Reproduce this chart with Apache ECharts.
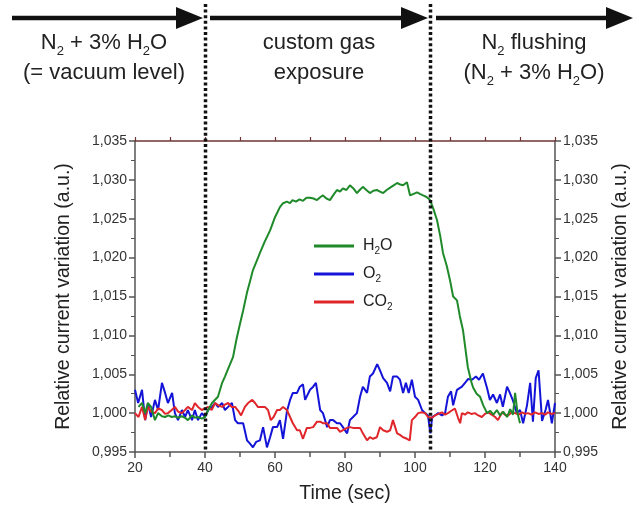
<!DOCTYPE html>
<html>
<head>
<meta charset="utf-8">
<script src="https://cdn.jsdelivr.net/npm/echarts@6/dist/echarts.min.js"></script>
<style>
html, body { margin: 0; padding: 0; background: #fff; }
#chart { width: 639px; height: 508px; }
</style>
</head>
<body>
<div id="chart"></div>
<script>
// time (sec), relative current variation (a.u.)
const h2o = [
	[21,1.0008],[22,1.0013],[22.9,1.0000],[23.7,1.0013],[24.6,1.0008],[25.7,0.9991],[26.6,1.0000],[27.7,0.9996],
	[28.6,0.9995],[29.5,0.9997],[30.5,0.9995],[31.4,0.9996],[32.3,0.9994],[33.4,0.9996],[34.3,0.9994],[35.1,0.9991],
	[36.3,0.9997],[37.1,0.9994],[38,0.9995],[39.1,0.9993],[40,0.9995],[40.9,1.0004],[42,1.0013],[43.7,1.0021],
	[44.9,1.0039],[45.7,1.0047],[46.6,1.0057],[48,1.0072],[49,1.0095],[50,1.0115],[50.9,1.0132],[52,1.0155],
	[53,1.0172],[53.7,1.0184],[54.7,1.0195],[55.7,1.0206],[57,1.0220],[58.6,1.0235],[60,1.0252],[61.4,1.0265],
	[62.3,1.0270],[63.4,1.0272],[64.3,1.0270],[65,1.0274],[66,1.0272],[67,1.0275],[68,1.0273],[69,1.0277],
	[70,1.0277],[71,1.0276],[72,1.0274],[73,1.0278],[73.7,1.0280],[74.7,1.0276],[75.7,1.0274],[76.6,1.0280],
	[77.7,1.0287],[78.6,1.0285],[79.4,1.0289],[80.4,1.0287],[81.4,1.0293],[82.4,1.0289],[83.4,1.0283],[84.2,1.0287],
	[85.1,1.0291],[86.1,1.0287],[87.1,1.0283],[88.1,1.0286],[89.1,1.0287],[90,1.0285],[90.9,1.0283],[91.9,1.0287],
	[92.9,1.0290],[93.9,1.0293],[94.9,1.0296],[95.8,1.0294],[96.6,1.0293],[97.7,1.0297],[98.6,1.0280],[99.6,1.0282],
	[100.6,1.0284],[101.4,1.0282],[102.3,1.0280],[103.3,1.0278],[104.3,1.0274],[105.3,1.0262],[106.3,1.0248],[107.2,1.0228],
	[108,1.0206],[109.1,1.0189],[110,1.0171],[110.9,1.0150],[112,1.0145],[112.8,1.0125],[113.7,1.0107],[114.4,1.0083],
	[115.1,1.0059],[116.1,1.0040],[116.6,1.0033],[117.6,1.0025],[118.6,1.0021],[119.5,1.0010],[120.6,1.0000],[121.5,1.0003],
	[122.4,0.9998],[123.4,1.0004],[124.3,0.9997],[125.2,1.0002],[126.3,0.9995],[127.2,1.0005],[128,0.9998],[128.6,1.0026],
	[129.3,1.0000],[130,0.9987]
];
const o2 = [
	[20,1.0030],[20.9,1.0013],[22,1.0030],[22.9,0.9991],[23.7,1.0013],[24.6,0.9995],[25.7,1.0017],[26.6,1.0004],
	[27.7,1.0039],[28.6,1.0026],[29.4,1.0013],[30.6,1.0026],[31.4,1.0000],[32.3,0.9991],[33.4,1.0004],[34.3,0.9995],
	[35.1,1.0004],[36.3,0.9991],[37.1,1.0004],[38,0.9991],[39.1,1.0000],[40,0.9995],[40.9,1.0004],[42,1.0008],
	[42.9,1.0013],[43.7,1.0008],[44.9,1.0013],[45.7,1.0004],[46.6,1.0008],[47.7,1.0013],[48.6,0.9991],[49.4,0.9987],
	[50.9,0.9987],[52,0.9965],[52.8,0.9961],[53.7,0.9956],[54.6,0.9963],[55.7,0.9965],[56.6,0.9982],[57.7,0.9956],
	[58.6,0.9969],[59.4,0.9982],[60.6,0.9982],[61.4,0.9991],[62.3,0.9967],[63.4,1.0002],[64.3,1.0017],[65.1,1.0026],
	[66.3,1.0026],[67.1,1.0034],[68,1.0037],[68.6,1.0017],[70,1.0030],[70.9,1.0034],[71.7,1.0039],[72.9,1.0004],
	[73.7,1.0000],[74.9,0.9982],[75.7,0.9991],[76.6,0.9991],[77.7,0.9987],[78.6,0.9987],[79.4,0.9982],[80.6,0.9974],
	[81.4,0.9991],[82.3,0.9995],[83.4,1.0000],[84.3,1.0021],[85.1,1.0034],[86.3,1.0026],[87.1,1.0047],[88,1.0051],
	[89.2,1.0063],[90,1.0055],[90.9,1.0045],[92,1.0039],[92.9,1.0028],[93.7,1.0047],[94.9,1.0047],[95.7,1.0043],
	[96.6,1.0026],[97.4,1.0039],[98.2,1.0026],[99.1,1.0043],[100,1.0021],[100.9,1.0017],[102,1.0004],[102.9,1.0000],
	[103.7,0.9997],[104.4,0.9974],[104.9,0.9995],[105.7,0.9997],[106.6,1.0000],[107.7,0.9997],[108.6,1.0000],[109.4,1.0021],
	[110.3,1.0028],[110.9,1.0010],[112,1.0030],[113.4,1.0034],[114.3,1.0039],[115.2,1.0044],[116.3,1.0043],[117.4,1.0047],
	[118.3,1.0043],[119.4,1.0051],[120.6,1.0032],[121.4,1.0017],[122.3,1.0024],[123.4,1.0013],[124.3,1.0024],[125.1,1.0008],
	[126.3,1.0034],[127.1,1.0026],[128,1.0016],[129.1,1.0000],[130,1.0004],[130.9,0.9987],[132,1.0010],[132.9,1.0039],
	[133.7,0.9989],[134.5,1.0045],[135.3,1.0055],[136.3,0.9990],[137.3,1.0004],[138,1.0017],[139.1,0.9987],[140,1.0013]
];
const co2 = [
	[20,1.0000],[21,0.9995],[22,1.0008],[22.9,0.9991],[23.7,1.0008],[24.6,1.0002],[25.7,1.0000],[26.6,1.0006],
	[27.7,1.0004],[28.6,0.9999],[29.4,1.0000],[30.5,1.0004],[31.4,1.0008],[32.3,1.0002],[33.4,1.0000],[34.3,1.0004],
	[35.1,1.0008],[36.3,1.0004],[37.1,1.0013],[38,1.0008],[39.1,1.0004],[40,1.0006],[40.9,1.0008],[41.9,1.0004],
	[42.9,1.0013],[43.8,1.0010],[44.9,1.0008],[45.7,1.0011],[46.6,1.0013],[47.6,1.0008],[48.6,1.0008],[49.5,1.0003],
	[50.3,0.9997],[51.4,1.0008],[52.3,1.0013],[53.5,1.0017],[54.3,1.0013],[55.1,1.0008],[56.1,1.0008],[57.1,1.0008],
	[58,1.0004],[58.8,0.9991],[59.6,0.9995],[60.6,1.0004],[61.4,1.0004],[62.3,1.0008],[63.4,1.0004],[64.3,0.9995],
	[65.1,0.9987],[66.3,0.9978],[67.1,0.9978],[68,0.9967],[69.1,0.9981],[70,0.9981],[70.9,0.9982],[72,0.9989],
	[72.9,0.9989],[73.7,0.9987],[74.9,0.9987],[75.7,0.9981],[76.6,0.9981],[77.7,0.9981],[78.6,0.9976],[79.4,0.9978],
	[80.6,0.9981],[81.4,0.9982],[82.3,0.9981],[83.4,0.9981],[84.3,0.9981],[85.1,0.9974],[86.3,0.9965],[87.1,0.9969],
	[88,0.9967],[89.1,0.9969],[90,0.9982],[90.9,0.9978],[92,0.9976],[92.9,0.9978],[93.7,0.9991],[94.9,0.9974],
	[95.7,0.9972],[96.6,0.9969],[97.7,0.9967],[98.5,0.9965],[99.1,0.9991],[100,0.9995],[100.9,1.0000],[102,1.0001],
	[102.9,1.0000],[103.7,0.9995],[104.9,0.9994],[105.7,0.9997],[106.7,0.9999],[107.7,1.0001],[108.6,0.9998],[109.4,1.0000],
	[110.4,1.0003],[111.4,1.0006],[112.3,0.9994],[112.9,0.9987],[113.4,1.0000],[114.3,0.9998],[115.1,1.0001],[116.1,0.9999],
	[117.1,1.0000],[118.1,0.9997],[119.1,0.9995],[120,0.9999],[120.9,1.0001],[121.9,0.9998],[122.9,0.9995],[123.7,0.9991],
	[124.9,1.0001],[125.7,0.9998],[126.6,0.9997],[127.6,1.0001],[128.6,1.0000],[129.6,0.9998],[130.6,1.0001],[131.5,0.9999],
	[132.3,1.0000],[133.3,0.9998],[134.3,1.0001],[135.3,0.9999],[136.3,1.0000],[137.2,0.9998],[138,1.0001],[139,0.9999],
	[140,1.0000]
];
const seriesNames = ['H2O', 'O2', 'CO2'];
const seriesColors = ['#1f8a2a', '#1414d8', '#e0262a'];
const timeRange = [20, 140, 20];
const currentRange = [0.995, 1.035, 0.005];
// phase boundaries (sec)
const phaseBounds = [40, 104.3];
const phaseLabels = [
	'{n|N}{s|2}{n| + 3% H}{s|2}{n|O}\n{n|(= vacuum level)}',
	'{n|custom gas}\n{n|exposure}',
	'{n|N}{s|2}{n| flushing}\n{n|(N}{s|2}{n| + 3% H}{s|2}{n|O)}'
];
const legendLabels = {
	H2O: '{n|H}{s|2}{n|O}',
	O2: '{n|O}{s|2}',
	CO2: '{n|CO}{s|2}'
};

const FONT = '"Liberation Sans", Arial, sans-serif';
const AXIS_COLOR = '#555';
const fmtComma = v => v.toFixed(3).replace('.', ',');

const chart = echarts.init(document.getElementById('chart'));

const yAxisBase = {
	type: 'value',
	min: currentRange[0],
	max: currentRange[1],
	interval: currentRange[2],
	name: 'Relative current variation (a.u.)',
	nameLocation: 'middle',
	nameRotate: 90,
	nameTextStyle: {fontFamily: FONT, fontSize: 19.5, color: '#222'},
	axisLine: {show: true, lineStyle: {color: AXIS_COLOR, width: 1.5}},
	axisTick: {show: true, length: 6, lineStyle: {color: AXIS_COLOR, width: 1.5}},
	minorTick: {show: true, splitNumber: 2, length: 4, lineStyle: {color: AXIS_COLOR, width: 1}},
	splitLine: {show: false},
	axisLabel: {fontFamily: FONT, fontSize: 14, color: '#333', margin: 8, formatter: fmtComma}
};

const option = {
	animation: false,
	backgroundColor: '#fff',
	grid: {left: 135, right: 84, top: 141, bottom: 56, outerBoundsMode: 'none'},
	legend: {
		orient: 'vertical',
		left: 309,
		top: 233,
		itemWidth: 40,
		itemHeight: 3,
		itemGap: 10,
		icon: 'rect',
		data: seriesNames,
		formatter: name => legendLabels[name],
		textStyle: {
			fontFamily: FONT,
			padding: [0, 0, 0, 4],
			rich: {
				n: {fontFamily: FONT, fontSize: 16, lineHeight: 20, color: '#222'},
				s: {fontFamily: FONT, fontSize: 10, lineHeight: 10, verticalAlign: 'bottom', color: '#222'}
			}
		}
	},
	xAxis: [{
		type: 'value',
		min: timeRange[0],
		max: timeRange[1],
		interval: timeRange[2],
		name: 'Time (sec)',
		nameLocation: 'middle',
		nameGap: 32,
		nameTextStyle: {fontFamily: FONT, fontSize: 19.5, color: '#222'},
		axisLine: {show: true, lineStyle: {color: AXIS_COLOR, width: 1.5}},
		axisTick: {show: true, length: 6, lineStyle: {color: AXIS_COLOR, width: 1.5}},
		minorTick: {show: true, splitNumber: 2, length: 5, lineStyle: {color: AXIS_COLOR, width: 1.5}},
		splitLine: {show: false},
		axisLabel: {fontFamily: FONT, fontSize: 14, color: '#333', margin: 9}
	}, {
		type: 'value',
		position: 'top',
		min: timeRange[0],
		max: timeRange[1],
		interval: timeRange[2],
		axisLine: {show: true, lineStyle: {color: '#6e3434', width: 1.5}},
		axisTick: {show: true, length: 4, lineStyle: {color: '#6e3434', width: 1.2}},
		minorTick: {show: true, splitNumber: 2, length: 4, lineStyle: {color: '#6e3434', width: 1.2}},
		splitLine: {show: false},
		axisLabel: {show: false}
	}],
	yAxis: [
		Object.assign({}, yAxisBase, {position: 'left', nameGap: 61}),
		Object.assign({}, yAxisBase, {position: 'right', nameGap: 56})
	],
	series: seriesNames.map((name, i) => ({
		name: name,
		type: 'line',
		data: [h2o, o2, co2][i],
		symbol: 'none',
		z: i === 0 ? 5 : 3,
		lineStyle: {color: seriesColors[i], width: 2},
		itemStyle: {color: seriesColors[i]}
	}))
};
chart.setOption(option);

// annotations above the plot: phase arrows, labels and boundary lines
const ARROW_Y = 18;
const arrowSpans = [[12, 203], [210, 428], [436, 633]];
const labelCenters = [104, 319, 534];
const graphics = [];
arrowSpans.forEach(span => {
	graphics.push({
		type: 'line',
		shape: {x1: span[0], y1: ARROW_Y, x2: span[1] - 20, y2: ARROW_Y},
		style: {stroke: '#111', lineWidth: 4.5}
	});
	graphics.push({
		type: 'polygon',
		shape: {points: [[span[1] - 27, ARROW_Y - 11], [span[1], ARROW_Y], [span[1] - 27, ARROW_Y + 11]]},
		style: {fill: '#111'}
	});
});
phaseLabels.forEach((txt, i) => {
	graphics.push({
		type: 'text',
		x: labelCenters[i],
		y: 28,
		style: {
			text: txt,
			align: 'center',
			verticalAlign: 'top',
			rich: {
				n: {fontFamily: FONT, fontSize: 22, lineHeight: 30, fill: '#222'},
				s: {fontFamily: FONT, fontSize: 13, lineHeight: 16, verticalAlign: 'bottom', fill: '#222'}
			}
		}
	});
});
phaseBounds.forEach(t => {
	const px = Math.round(chart.convertToPixel({xAxisIndex: 0}, t)) + 0.5;
	graphics.push({
		type: 'line',
		z: 100,
		shape: {x1: px, y1: 4, x2: px, y2: 450},
		style: {stroke: '#111', lineWidth: 3.5, lineDash: [3, 2.6]}
	});
});
chart.setOption({graphic: graphics});
</script>
</body>
</html>
